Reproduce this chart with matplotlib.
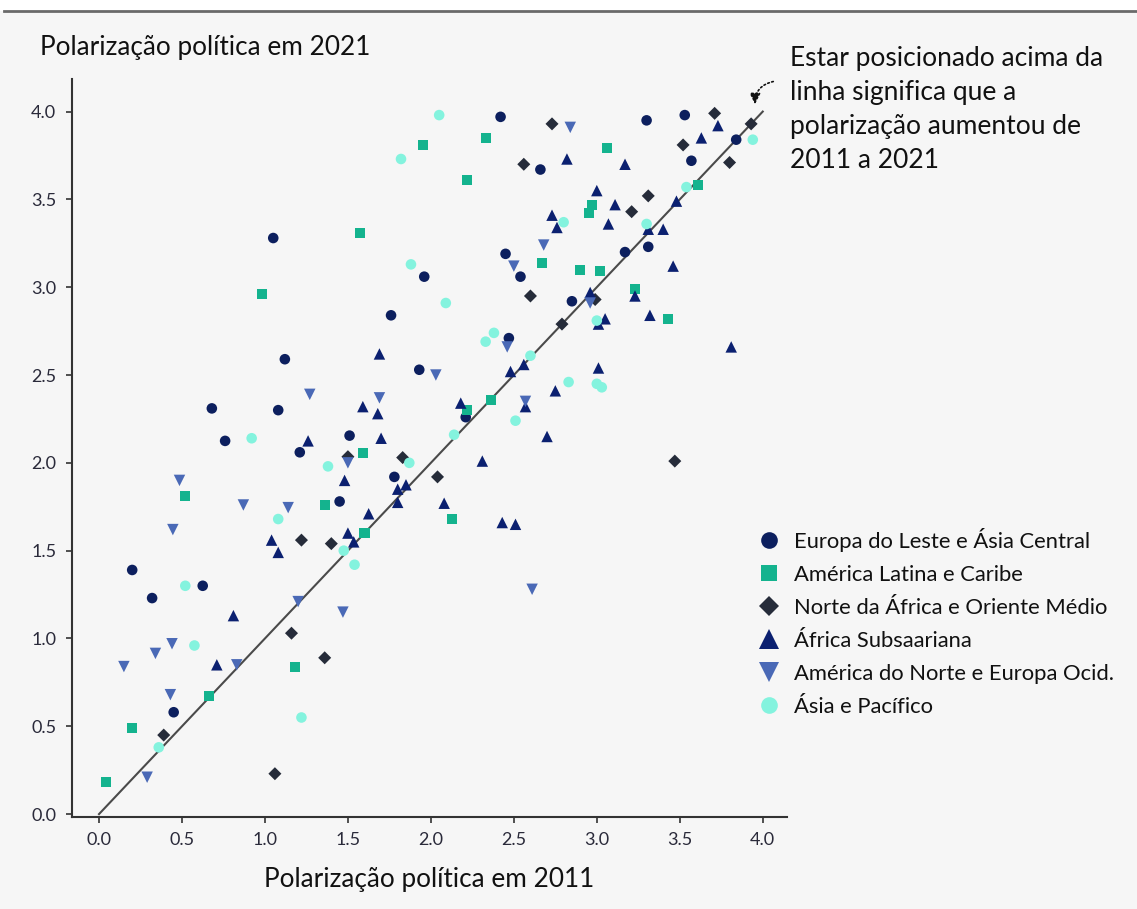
import matplotlib
matplotlib.use("Agg")
import matplotlib.pyplot as plt
from matplotlib.lines import Line2D

plt.rcParams['font.family'] = ['Lato', 'DejaVu Sans']

# ---- data (2011, 2021) per region ----
europa_leste_x = [2.42, 3.30, 3.53, 3.84, 3.57, 2.66, 1.05, 2.45, 3.17, 3.31, 2.54, 1.96, 1.76, 2.85, 1.12,
                  1.93, 2.47, 2.21, 0.68, 1.08, 0.76, 1.21, 1.51, 1.78, 1.45, 0.20, 0.625, 0.32, 0.45]
europa_leste_y = [3.97, 3.95, 3.98, 3.84, 3.72, 3.67, 3.28, 3.19, 3.20, 3.23, 3.06, 3.06, 2.84, 2.92, 2.59,
                  2.53, 2.71, 2.26, 2.31, 2.30, 2.125, 2.06, 2.155, 1.92, 1.78, 1.39, 1.30, 1.23, 0.58]

america_latina_x = [1.95, 1.57, 0.98, 2.33, 3.06, 2.22, 2.97, 2.95, 3.61, 2.67, 2.90, 3.02, 3.23, 3.43, 2.36,
                    2.22, 2.13, 1.59, 0.52, 1.36, 1.60, 1.18, 0.66, 0.20, 0.04]
america_latina_y = [3.81, 3.31, 2.96, 3.85, 3.79, 3.61, 3.47, 3.42, 3.58, 3.14, 3.10, 3.09, 2.99, 2.82, 2.36,
                    2.30, 1.68, 2.055, 1.81, 1.76, 1.60, 0.84, 0.67, 0.49, 0.18]

norte_africa_x = [2.73, 3.71, 3.93, 3.52, 3.80, 2.56, 3.31, 3.21, 2.60, 2.99, 2.79, 3.47, 2.04, 1.50, 1.83,
                  1.22, 1.40, 1.16, 1.36, 0.39, 1.06]
norte_africa_y = [3.93, 3.99, 3.93, 3.81, 3.71, 3.70, 3.52, 3.43, 2.95, 2.93, 2.79, 2.01, 1.92, 2.035, 2.03,
                  1.56, 1.54, 1.03, 0.89, 0.45, 0.23]

africa_sub_x = [1.69, 3.73, 3.63, 2.82, 3.17, 3.00, 3.11, 3.48, 2.73, 2.76, 3.07, 3.31, 3.40, 3.46, 2.96,
                3.23, 3.32, 3.05, 3.01, 3.81, 2.56, 2.48, 3.01, 2.75, 2.18, 2.57, 2.70, 2.31, 2.08, 2.43,
                2.51, 1.59, 1.68, 1.26, 1.70, 1.48, 1.80, 1.85, 1.80, 1.625, 1.50, 1.535, 1.04, 1.08, 0.81,
                0.71]
africa_sub_y = [2.62, 3.92, 3.85, 3.73, 3.70, 3.55, 3.47, 3.49, 3.41, 3.34, 3.36, 3.33, 3.33, 3.12, 2.97,
                2.95, 2.84, 2.82, 2.79, 2.66, 2.56, 2.52, 2.54, 2.41, 2.34, 2.32, 2.15, 2.01, 1.77, 1.66,
                1.65, 2.32, 2.28, 2.125, 2.14, 1.90, 1.85, 1.875, 1.775, 1.71, 1.60, 1.55, 1.56, 1.49, 1.13,
                0.85]

america_norte_x = [2.84, 2.68, 2.50, 2.96, 2.46, 2.03, 2.57, 2.61, 1.27, 1.69, 1.50, 0.485, 0.87, 1.14, 0.445,
                   1.20, 1.47, 0.44, 0.34, 0.15, 0.83, 0.43, 0.29]
america_norte_y = [3.91, 3.24, 3.12, 2.91, 2.66, 2.50, 2.35, 1.28, 2.39, 2.37, 2.00, 1.90, 1.76, 1.745, 1.62,
                   1.21, 1.15, 0.97, 0.915, 0.84, 0.85, 0.68, 0.21]

asia_x = [2.05, 1.82, 1.88, 3.94, 3.54, 2.80, 3.30, 2.09, 3.00, 2.38, 2.33, 2.60, 2.83, 3.00, 3.03,
          2.51, 2.14, 0.92, 1.38, 1.87, 1.08, 1.475, 1.54, 0.52, 0.575, 1.22, 0.36]
asia_y = [3.98, 3.73, 3.13, 3.84, 3.57, 3.37, 3.36, 2.91, 2.81, 2.74, 2.69, 2.61, 2.46, 2.45, 2.43,
          2.24, 2.16, 2.14, 1.98, 2.00, 1.68, 1.50, 1.42, 1.30, 0.96, 0.55, 0.38]

region_names = ["Europa do Leste e Ásia Central", "América Latina e Caribe",
                "Norte da África e Oriente Médio", "África Subsaariana",
                "América do Norte e Europa Ocid.", "Ásia e Pacífico"]

tick_vals = [0.0, 0.5, 1.0, 1.5, 2.0, 2.5, 3.0, 3.5, 4.0]
tick_labels = ["0.0", "0.5", "1.0", "1.5", "2.0", "2.5", "3.0", "3.5", "4.0"]

# ---- styles ----
series = [
    (europa_leste_x, europa_leste_y, 'o', '#0c1f5e', 58),
    (america_latina_x, america_latina_y, 's', '#14b38e', 52),
    (norte_africa_x, norte_africa_y, 'D', '#262c3a', 44),
    (africa_sub_x, africa_sub_y, '^', '#0b2070', 68),
    (america_norte_x, america_norte_y, 'v', '#4a69b6', 68),
    (asia_x, asia_y, 'o', '#84f3de', 58),
]

BG = '#f6f6f6'
fig = plt.figure(figsize=(11.37, 9.09), dpi=100, facecolor=BG)
ax = fig.add_axes([0.063, 0.1015, 0.629, 0.8115])
ax.set_facecolor(BG)

# top white band and border line
fig.patches.append(plt.Rectangle((0, 1 - 11 / 909), 1, 11 / 909, transform=fig.transFigure,
                                 facecolor='white', edgecolor='none', zorder=0))
fig.add_artist(Line2D([4 / 1137, 1], [1 - 11 / 909, 1 - 11 / 909], transform=fig.transFigure,
                      color='#6a6a6a', lw=2))

ax.plot([0, 4.0], [0, 4.0], color='#4a4a4a', lw=1.5, zorder=1)

handles = []
for (xs, ys, m, c, s), name in zip(series, region_names):
    ax.scatter(xs, ys, marker=m, s=s, color=c, edgecolors='none', zorder=3)
    handles.append(Line2D([], [], marker=m, color=c, linestyle='none',
                          markersize=(14 if m in '^v' else 12 if m == 'o' else 11 if m == 's' else 10),
                          markeredgewidth=0, label=name))

ax.set_xlim(-0.165, 4.145)
ax.set_ylim(-0.015, 4.185)
ax.set_xticks(tick_vals)
ax.set_xticklabels(tick_labels)
ax.set_yticks(tick_vals)
ax.set_yticklabels(tick_labels)
for sp in ['top', 'right']:
    ax.spines[sp].set_visible(False)
for sp in ['left', 'bottom']:
    ax.spines[sp].set_color('#333333')
    ax.spines[sp].set_linewidth(1.5)
ax.tick_params(axis='both', direction='out', length=4, width=1.2, color='#333333',
               labelsize=13, labelcolor='#2a2a3a', pad=7)

ax.set_xlabel("Polarização política em 2011", fontsize=18.8, color='#111111', labelpad=14)
fig.text(40 / 1137, 1 - 47 / 909, "Polarização política em 2021", fontsize=18.8,
         color='#111111', ha='left', va='center')

fig.text(790 / 1137, 1 - 46 / 909,
         "Estar posicionado acima da\nlinha significa que a\npolarização aumentou de\n2011 a 2021",
         fontsize=19, color='#111111', ha='left', va='top', linespacing=1.45)

ax.annotate("", xy=(755 / 1137, 1 - 107 / 909), xycoords='figure fraction',
            xytext=(776 / 1137, 1 - 81 / 909), textcoords='figure fraction',
            arrowprops=dict(arrowstyle='-|>', color='#111111', lw=1.2, linestyle=(0, (1, 1.5)),
                            connectionstyle='arc3,rad=0.45', mutation_scale=16))

leg = fig.legend(handles=handles, loc='upper left', bbox_to_anchor=(747 / 1137, 1 - 519 / 909),
                 frameon=False, fontsize=15.8, handletextpad=0.55, labelspacing=0.59,
                 handlelength=1.2, borderaxespad=0)
for t in leg.get_texts():
    t.set_color('#111111')

fig.savefig("out.png", dpi=100, facecolor=BG)
